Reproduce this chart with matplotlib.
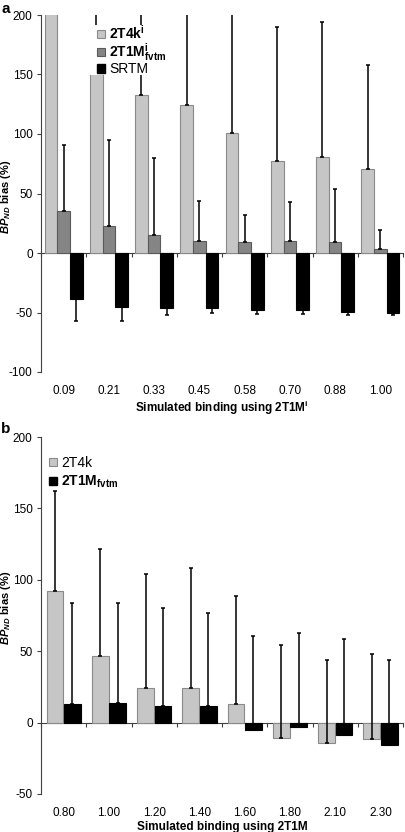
import matplotlib
matplotlib.use("Agg")
import matplotlib.pyplot as plt
from matplotlib.patches import Patch, Rectangle
import numpy as np

plt.rcParams['font.family'] = ['Liberation Sans', 'DejaVu Sans']
plt.rcParams['mathtext.fontset'] = 'custom'
plt.rcParams['mathtext.rm'] = 'Liberation Sans'
plt.rcParams['mathtext.it'] = 'Liberation Sans:italic'
plt.rcParams['mathtext.bf'] = 'Liberation Sans:bold'
plt.rcParams['mathtext.bfit'] = 'Liberation Sans:italic:bold'

# ---------------- data: panel a ----------------
cats_a = ['0.09', '0.21', '0.33', '0.45', '0.58', '0.70', '0.88', '1.00']
t4k_a = [260, 170, 133, 124, 101, 77, 81, 71]
t4k_a_err = [100, 80, 100, 110, 120, 113, 113, 87]
t1m_a = [35, 23, 15, 10, 9, 10, 9, 3]
t1m_a_err = [56, 72, 65, 34, 23, 33, 45, 16]
srtm_a = [-38.5, -45, -46.5, -46.5, -48, -48, -49.5, -50.5]
srtm_a_err = [19, 12, 5.5, 4, 3.5, 3, 2.5, 2]
yticks_a = [-100, -50, 0, 50, 100, 150, 200]

# ---------------- data: panel b ----------------
cats_b = ['0.80', '1.00', '1.20', '1.40', '1.60', '1.80', '2.10', '2.30']
t4k_b = [92.5, 46.5, 24, 24, 13, -11, -14.5, -11.5]
t4k_b_err = [69.5, 75, 80, 84, 75.5, 65, 58.5, 59.5]
t1m_b = [13, 13.5, 11.5, 11.5, -5, -3, -9, -15.5]
t1m_b_err = [70.5, 70.5, 69, 65.5, 65.5, 65.5, 67.5, 59.5]
yticks_b = [-50, 0, 50, 100, 150, 200]

LIGHT = '#c6c6c6'
LIGHT_E = '#8a8a8a'
DARK = '#858585'
DARK_E = '#5a5a5a'
BLACK = '#000000'
AXC = '#404040'
FS = 8.5
LFS = 10

W, H = 405, 832
fig = plt.figure(figsize=(W / 100, H / 100), dpi=100)

def px_axes(left, top, right, bottom):
    return fig.add_axes([left / W, 1 - bottom / H, (right - left) / W, (bottom - top) / H])

def style(ax, cats, yticks, ylim, xlabel, ylab_y):
    ax.set_xlim(-0.5, len(cats) - 0.5)
    ax.set_ylim(*ylim)
    ax.set_yticks(yticks)
    ax.set_yticklabels([str(v) for v in yticks], fontsize=FS)
    for s in ['top', 'right', 'bottom']:
        ax.spines[s].set_visible(False)
    ax.spines['left'].set_color(AXC)
    ax.spines['left'].set_linewidth(0.8)
    ax.tick_params(axis='y', direction='out', length=3, width=0.8, color=AXC, pad=3)
    ax.set_xticks(np.arange(len(cats)))
    ax.set_xticklabels(cats, fontsize=FS)
    ax.tick_params(axis='x', length=0, pad=9)
    ax.set_xlabel(xlabel, fontsize=FS, fontweight='bold', labelpad=1.5)
    ax.set_ylabel(r'$\mathbfit{BP}_{\mathbfit{ND}}$ bias (%)', fontsize=8, fontweight='bold')
    ax.yaxis.set_label_coords(-0.078, ylab_y)
    sec = ax.secondary_xaxis(0, transform=ax.transData)
    sec.set_xticks(np.arange(len(cats) + 1) - 0.5)
    sec.set_xticklabels([])
    sec.spines['bottom'].set_color(AXC)
    sec.spines['bottom'].set_linewidth(0.8)
    sec.tick_params(axis='x', direction='out', length=3, width=0.8, color=AXC)

ekw = dict(ecolor='black', elinewidth=1.1, capsize=1.6, capthick=1.1, fmt='none', zorder=3)

# ---------------- panel a ----------------
axa = px_axes(41, 15, 403, 372)
x = np.arange(len(cats_a))
bw = 0.28
axa.bar(x - 0.28, t4k_a, bw, color=LIGHT, edgecolor=LIGHT_E, linewidth=0.8, zorder=2)
axa.bar(x, t1m_a, bw, color=DARK, edgecolor=DARK_E, linewidth=0.8, zorder=2)
axa.bar(x + 0.28, srtm_a, bw, color=BLACK, edgecolor=BLACK, linewidth=0.8, zorder=2)
axa.errorbar(x - 0.28, t4k_a, yerr=[np.zeros(len(x)), t4k_a_err], **ekw)
axa.errorbar(x, t1m_a, yerr=[np.zeros(len(x)), t1m_a_err], **ekw)
axa.errorbar(x + 0.28, srtm_a, yerr=[srtm_a_err, np.zeros(len(x))], **ekw)
style(axa, cats_a, yticks_a, (-100, 200),
      r'Simulated binding using 2T1M$^{\mathbf{i}}$', 0.49)

# white legend background box (axes coords)
axa.add_patch(Rectangle((0.127, 0.832), 0.218, 0.14, transform=axa.transAxes,
                        facecolor='white', edgecolor='none', zorder=4))

handles_a = [Patch(facecolor=LIGHT, edgecolor=LIGHT_E, linewidth=0.8),
             Patch(facecolor=DARK, edgecolor=DARK_E, linewidth=0.8),
             Patch(facecolor=BLACK, edgecolor=BLACK)]
labels_a = [r'2T4k$^{\mathbf{i}}$', r'2T1M$^{\mathbf{i}}_{\mathbf{fvtm}}$', 'SRTM']
leg = axa.legend(handles_a, labels_a, loc='upper left', bbox_to_anchor=(0.156, 0.975),
                 borderaxespad=0, frameon=False, fontsize=LFS,
                 handlelength=0.55, handleheight=0.55, handletextpad=0.3,
                 labelspacing=-0.05, borderpad=0.0)
for t, w in zip(leg.get_texts(), ['bold', 'bold', 'normal']):
    t.set_fontweight(w)
leg.set_zorder(6)

# ---------------- panel b ----------------
axb = px_axes(41, 437, 403, 794)
x = np.arange(len(cats_b))
bw = 0.37
axb.bar(x - 0.19, t4k_b, bw, color=LIGHT, edgecolor=LIGHT_E, linewidth=0.8, zorder=2)
axb.bar(x + 0.195, t1m_b, bw, color=BLACK, edgecolor=BLACK, linewidth=0.8, zorder=2)
axb.errorbar(x - 0.19, t4k_b, yerr=[np.zeros(len(x)), t4k_b_err], **ekw)
axb.errorbar(x + 0.195, t1m_b, yerr=[np.zeros(len(x)), t1m_b_err], **ekw)
style(axb, cats_b, yticks_b, (-50, 200), 'Simulated binding using 2T1M', 0.52)

handles_b = [Patch(facecolor=LIGHT, edgecolor=LIGHT_E, linewidth=0.8),
             Patch(facecolor=BLACK, edgecolor=BLACK)]
labels_b = ['2T4k', r'2T1M$_{\mathbf{fvtm}}$']
legb = axb.legend(handles_b, labels_b, loc='upper left', bbox_to_anchor=(0.022, 0.947),
                  borderaxespad=0, frameon=False, fontsize=LFS,
                  handlelength=0.55, handleheight=0.55, handletextpad=0.3,
                  labelspacing=0.3, borderpad=0.0)
for t, w in zip(legb.get_texts(), ['normal', 'bold']):
    t.set_fontweight(w)

fig.text(1 / W, 1 - 2 / H, 'a', fontsize=11, fontweight='bold', ha='left', va='top')
fig.text(1 / W, 1 - 422 / H, 'b', fontsize=11, fontweight='bold', ha='left', va='top')

fig.savefig('out.png', dpi=100)
